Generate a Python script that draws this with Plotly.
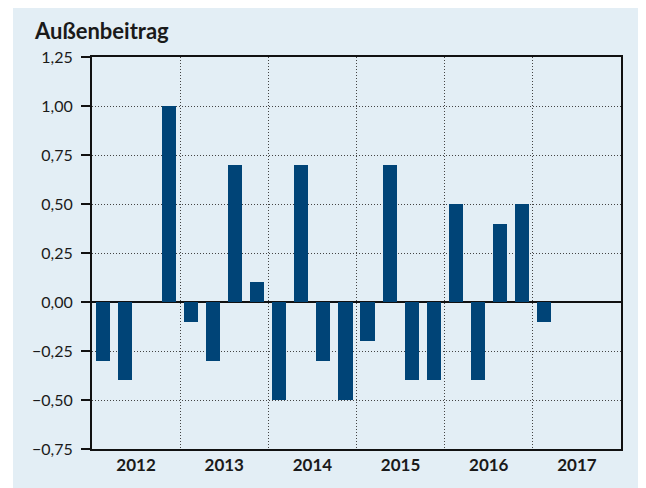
import plotly.graph_objects as go

years = [2012, 2013, 2014, 2015, 2016, 2017]
quarters = ["2012Q1", "2012Q2", "2012Q3", "2012Q4",
            "2013Q1", "2013Q2", "2013Q3", "2013Q4",
            "2014Q1", "2014Q2", "2014Q3", "2014Q4",
            "2015Q1", "2015Q2", "2015Q3", "2015Q4",
            "2016Q1", "2016Q2", "2016Q3", "2016Q4",
            "2017Q1"]
values = [-0.3, -0.4, 0.0, 1.0,
          -0.1, -0.3, 0.7, 0.1,
          -0.5, 0.7, -0.3, -0.5,
          -0.2, 0.7, -0.4, -0.4,
          0.5, -0.4, 0.4, 0.5,
          -0.1]
y_ticks = [-0.75, -0.5, -0.25, 0.0, 0.25, 0.5, 0.75, 1.0, 1.25]
title_text = "Außenbeitrag"

BAR = "#004477"
BG = "#e3eef5"

x_pos = [int(q[:4]) + (int(q[5]) - 0.5) / 4 for q in quarters]

fig = go.Figure()
fig.add_trace(go.Bar(x=x_pos, y=values, width=0.16, marker=dict(color=BAR, line=dict(width=0)),
                     hoverinfo="skip"))

# page body has an 8px margin, so the figure is sized/placed accordingly
W, H = 638, 480
ml, mr, mt, mb = 84, 25, 49, 39
pw, ph = W - ml - mr, H - mt - mb

def px_x(x):
    return (x - ml) / pw

def px_y(y):
    return (H - y - mb) / ph

fig.add_shape(type="rect", xref="paper", yref="paper",
              x0=px_x(5), x1=px_x(633), y0=px_y(480), y1=px_y(-2),
              fillcolor=BG, line=dict(width=0), layer="below")

fig.update_layout(
    width=W, height=H,
    margin=dict(l=ml, r=mr, t=mt, b=mb),
    paper_bgcolor="white",
    plot_bgcolor="rgba(0,0,0,0)",
    separators=",.",
    showlegend=False,
    bargap=0,
    font=dict(family="Lato, Open Sans, sans-serif", color="#1a1a1a"),
    annotations=[dict(text="<b>" + title_text + "</b>", xref="paper", yref="paper",
                      x=px_x(24), y=px_y(38), xanchor="left", yanchor="bottom",
                      showarrow=False, font=dict(size=22, color="#1a1a1a"))],
)

fig.update_xaxes(
    range=[2012, 2018],
    tickvals=[y + 0.5 for y in years],
    ticktext=["<b>%d</b>" % y for y in years],
    tickfont=dict(size=17, color="#1a1a1a"),
    ticks="", showgrid=False, zeroline=False,
    showline=True, linecolor="#111", linewidth=2, mirror=True,
    minor=dict(tickvals=years[1:], showgrid=True, gridcolor="#444", griddash="1px,2px", gridwidth=1, ticks=""),
)
fig.update_yaxes(
    range=[-0.75, 1.25],
    tickvals=y_ticks,
    tickformat=".2f",
    tickfont=dict(size=16, color="#1a1a1a"),
    ticks="outside", ticklen=9, tickwidth=2, tickcolor="#111",
    ticklabelstandoff=5,
    showgrid=True, gridcolor="#444", griddash="1px,2px", gridwidth=1,
    zeroline=True, zerolinecolor="#111", zerolinewidth=2,
    showline=True, linecolor="#111", linewidth=2, mirror=True,
)

fig.write_html("out.html")
